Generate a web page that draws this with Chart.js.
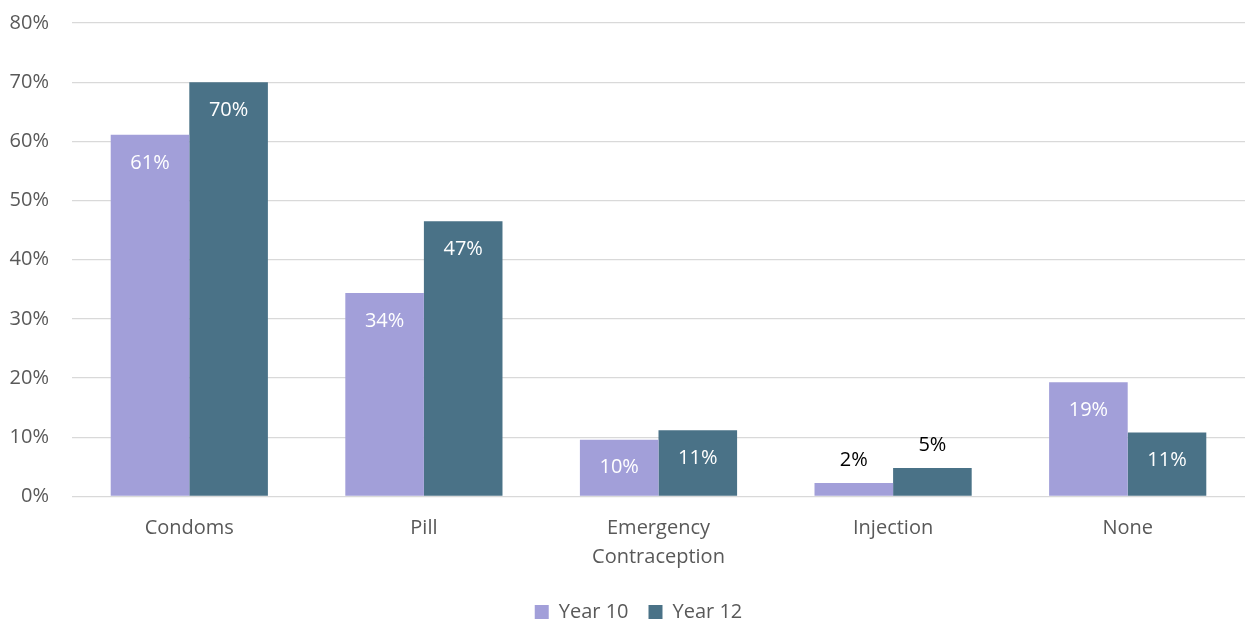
<!DOCTYPE html>
<html>
<head>
<meta charset="utf-8">
<style>
  html, body { margin: 0; padding: 0; background: #fff; }
  #wrap { width: 1245px; height: 621px; }
</style>
<script src="https://cdn.jsdelivr.net/npm/chart.js@4/dist/chart.umd.min.js"></script>
</head>
<body>
<div id="wrap"><canvas id="methods_chart"></canvas></div>
<script>
const categories = ["Condoms", "Pill", ["Emergency", "Contraception"], "Injection", "None"];
const year10 = [61.1, 34.4, 9.6, 2.3, 19.3];
const year12 = [70.0, 46.5, 11.2, 4.8, 10.8];
const yTicks = [0, 10, 20, 30, 40, 50, 60, 70, 80];

const FONT = "'Open Sans', sans-serif";
const GREY = "#595959";

// value labels: white inside the bar, black above it when the bar is short
const barLabels = {
    id: "barLabels",
    afterDatasetsDraw(chart) {
        const ctx = chart.ctx;
        ctx.save();
        ctx.font = "20px " + FONT;
        ctx.textAlign = "center";
        ctx.textBaseline = "middle";
        chart.data.datasets.forEach((ds, i) => {
            chart.getDatasetMeta(i).data.forEach((bar, j) => {
                const text = Math.round(ds.data[j]) + "%";
                const h = bar.base - bar.y;
                if (h < 40) {
                    ctx.fillStyle = "#000";
                    ctx.fillText(text, bar.x, bar.y - 23);
                } else {
                    ctx.fillStyle = "#fff";
                    ctx.fillText(text, bar.x, bar.y + 28);
                }
            });
        });
        ctx.restore();
    },
};

// nudge the legend a little right, like the original
const legendShift = {
    id: "legendShift",
    afterLayout(chart) {
        chart.legend.left += 16;
        chart.legend.right += 16;
    },
};

const ctx = document.querySelector("#methods_chart").getContext("2d");

const methods = new Chart(ctx, {
    type: "bar",
    data: {
        labels: categories,
        datasets: [
            {
                label: "Year 10",
                data: year10,
                backgroundColor: "#A29FD9",
            },
            {
                label: "Year 12",
                data: year12,
                backgroundColor: "#4A7287",
            },
        ],
    },
    options: {
        responsive: true,
        maintainAspectRatio: false,
        animation: false,
        categoryPercentage: 0.67,
        barPercentage: 1,
        layout: {
            padding: { top: 23, right: 0, bottom: -11, left: 0 },
        },
        plugins: {
            legend: {
                position: "bottom",
                labels: {
                    boxWidth: 14,
                    boxHeight: 14,
                    padding: 20,
                    color: GREY,
                    font: { size: 20, family: FONT },
                },
            },
            tooltip: { enabled: false },
        },
        scales: {
            x: {
                grid: { display: false },
                border: { display: false },
                ticks: {
                    color: GREY,
                    font: { size: 20, family: FONT, lineHeight: 1.45 },
                    padding: 9,
                    maxRotation: 0,
                },
                afterFit(scale) {
                    scale.height = 85.5;
                    scale.paddingLeft = 0;
                    scale.paddingRight = 0;
                },
            },
            y: {
                min: 0,
                max: 80,
                afterBuildTicks(scale) {
                    scale.ticks = yTicks.map((v) => ({ value: v }));
                },
                grid: {
                    color: "#D9D9D9",
                    lineWidth: 1.3,
                    drawTicks: false,
                },
                border: { display: false },
                ticks: {
                    color: GREY,
                    font: { size: 20, family: FONT },
                    padding: 23,
                    callback: (v) => v + "%",
                },
                afterFit(scale) {
                    scale.width = 72;
                    scale.paddingTop = 0;
                    scale.paddingBottom = 0;
                },
            },
        },
    },
    plugins: [barLabels, legendShift],
});
</script>
</body>
</html>
